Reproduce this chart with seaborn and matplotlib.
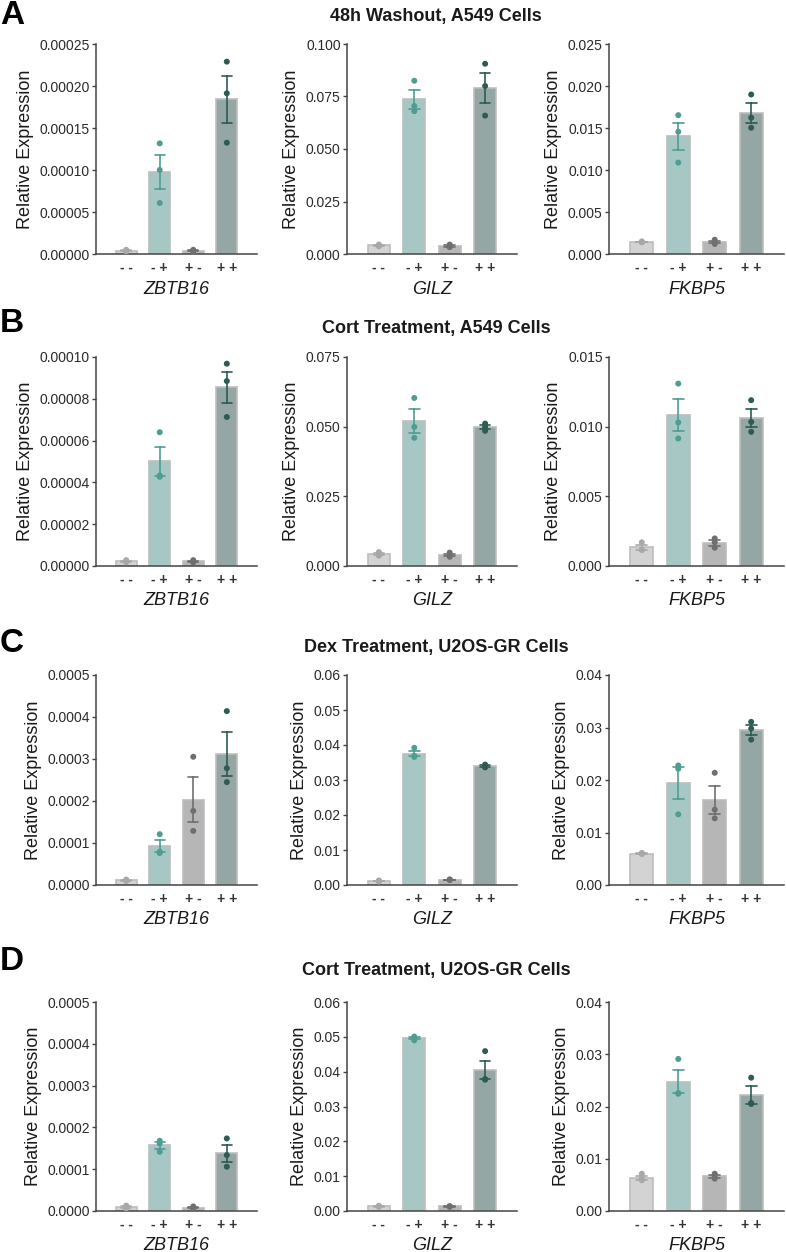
import matplotlib
matplotlib.use("Agg")
import matplotlib.pyplot as plt
import seaborn as sns
import pandas as pd
import numpy as np
from matplotlib.ticker import FormatStrFormatter, MultipleLocator

# conditions on the x axis
conds = ["- -", "- +", "+ -", "+ +"]
genes = ["ZBTB16", "GILZ", "FKBP5"]
row_titles = ["48h Washout, A549 Cells", "Cort Treatment, A549 Cells",
              "Dex Treatment, U2OS-GR Cells", "Cort Treatment, U2OS-GR Cells"]
row_letters = ["A", "B", "C", "D"]

# replicate values per condition (--, -+, +-, ++)
A_ZBTB16 = [[0.000005, 0.000003, 0.000003], [0.0001317, 0.0001, 0.0000607],
            [0.000005, 0.000004, 0.000003], [0.000229, 0.0001913, 0.0001325]]
A_GILZ = [[0.0045, 0.004, 0.0037], [0.0825, 0.0705, 0.068],
          [0.0045, 0.0035, 0.0033], [0.0906, 0.080, 0.0659]]
A_FKBP5 = [[0.0015, 0.0014, 0.0014], [0.01653, 0.01456, 0.01088],
           [0.0017, 0.0014, 0.0012], [0.01899, 0.01622, 0.01503]]

B_ZBTB16 = [[0.0000028, 0.000002, 0.0000018], [0.000064, 0.0000433, 0.0000427],
            [0.0000028, 0.000002, 0.0000018], [0.0000968, 0.0000885, 0.0000713]]
B_GILZ = [[0.005, 0.004, 0.0037], [0.0603, 0.0499, 0.046],
          [0.0048, 0.0037, 0.0033], [0.0511, 0.0499, 0.0485]]
B_FKBP5 = [[0.0017, 0.00117, 0.00115], [0.01309, 0.0103, 0.00915],
           [0.00198, 0.0017, 0.00131], [0.0119, 0.01034, 0.00963]]

C_ZBTB16 = [[0.000013, 0.00001, 0.00001], [0.000121, 0.000079, 0.000076],
            [0.0003053, 0.0001765, 0.0001288], [0.000414, 0.000278, 0.000245]]
C_GILZ = [[0.0013, 0.0011, 0.001], [0.0392, 0.0369, 0.0366],
          [0.0016, 0.0015, 0.0014], [0.0344, 0.034, 0.0336]]
C_FKBP5 = [[0.0061, 0.006, 0.0059], [0.02277, 0.02214, 0.01346],
           [0.02137, 0.01435, 0.0127], [0.03107, 0.0298, 0.02769]]

D_ZBTB16 = [[0.000013, 0.000008, 0.000006], [0.000168, 0.0001616, 0.0001417],
            [0.000011, 0.000007, 0.000006], [0.0001736, 0.0001338, 0.0001059]]
D_GILZ = [[0.0015, 0.0013, 0.0012], [0.0501, 0.0496, 0.049],
          [0.0014, 0.0013, 0.0012], [0.0459, 0.0379, 0.0377]]
D_FKBP5 = [[0.00714, 0.00619, 0.00587], [0.0291, 0.02258, 0.02245],
           [0.00714, 0.00663, 0.0062], [0.02552, 0.02067, 0.02048]]

panels = [[A_ZBTB16, A_GILZ, A_FKBP5],
          [B_ZBTB16, B_GILZ, B_FKBP5],
          [C_ZBTB16, C_GILZ, C_FKBP5],
          [D_ZBTB16, D_GILZ, D_FKBP5]]

# y axis ranges / ticks
y_top = [[0.00025, 0.1, 0.025], [0.0001, 0.075, 0.015],
         [0.0005, 0.06, 0.04], [0.0005, 0.06, 0.04]]
y_step = [[0.00005, 0.025, 0.005], [0.00002, 0.025, 0.005],
          [0.0001, 0.01, 0.01], [0.0001, 0.01, 0.01]]
y_fmt = [["%.5f", "%.3f", "%.3f"], ["%.5f", "%.3f", "%.3f"],
         ["%.4f", "%.2f", "%.2f"], ["%.4f", "%.2f", "%.2f"]]

bar_colors = ["#d3d3d3", "#a2ccc8", "#b6b6b6", "#92aaa6"]
pt_colors = ["#a8a8a8", "#4f9d92", "#6f6f6f", "#2c5c54"]

sns.set_style("ticks")
plt.rcParams["font.family"] = ["Liberation Sans", "DejaVu Sans"]

W, H = 786, 1252
fig = plt.figure(figsize=(W / 100, H / 100), dpi=100)

# axes boxes in pixels
cols_px = [(96, 257), (347, 517), (609, 784)]
rows_px = [(44, 254), (357, 566), (675, 885), (1002, 1211)]
title_y = [16, 329, 648, 970]
letter_y = [16, 324, 643, 962]

for r in range(4):
    fig.text(436 / W, 1 - title_y[r] / H, row_titles[r], ha="center", va="center",
             fontsize=13, fontweight="bold", color="#1a1a1a")
    fig.text(0 / W, 1 - letter_y[r] / H, row_letters[r], ha="left", va="center",
             fontsize=24, fontweight="bold", color="black")
    for c in range(3):
        vals = panels[r][c]
        df = pd.DataFrame({
            "cond": [conds[i] for i in range(4) for _ in vals[i]],
            "val": [v for grp in vals for v in grp],
        })
        l, rr = cols_px[c]
        t, b = rows_px[r]
        ax = fig.add_axes([l / W, 1 - b / H, (rr - l) / W, (b - t) / H])

        sns.barplot(data=df, x="cond", y="val", hue="cond", order=conds, hue_order=conds,
                    palette=bar_colors, errorbar=None, width=0.63, edgecolor="#bdbdbd",
                    linewidth=1.2, legend=False, ax=ax)
        sns.pointplot(data=df, x="cond", y="val", hue="cond", order=conds, hue_order=conds,
                      palette=pt_colors, errorbar="se", capsize=0.3, marker="",
                      linestyle="none", markersize=0, err_kws={"linewidth": 1.2},
                      legend=False, ax=ax)
        sns.stripplot(data=df, x="cond", y="val", hue="cond", order=conds, hue_order=conds,
                      palette=pt_colors, jitter=False, size=4.3, legend=False, ax=ax,
                      zorder=4)

        ax.set_xlim(-0.9, 3.9)
        ax.set_ylim(0, y_top[r][c])
        ax.yaxis.set_major_locator(MultipleLocator(y_step[r][c]))
        ax.yaxis.set_major_formatter(FormatStrFormatter(y_fmt[r][c]))
        ax.set_ylabel("Relative Expression", fontsize=13, labelpad=4, color="#1a1a1a")
        ax.set_xlabel(genes[c], fontsize=13, style="italic", labelpad=4, color="#1a1a1a")
        ax.tick_params(axis="y", labelsize=10, length=3, width=1, color="#444444",
                       labelcolor="#2a2a2a", pad=1.5)
        ax.tick_params(axis="x", length=0, pad=5)
        for lab in ax.get_xticklabels():
            lab.set_fontweight("bold")
            lab.set_fontsize(10)
            lab.set_color("#333333")
        sns.despine(ax=ax)
        for s in ["left", "bottom"]:
            ax.spines[s].set_color("#444444")
            ax.spines[s].set_linewidth(1.1)

fig.savefig("out.png", dpi=100)
